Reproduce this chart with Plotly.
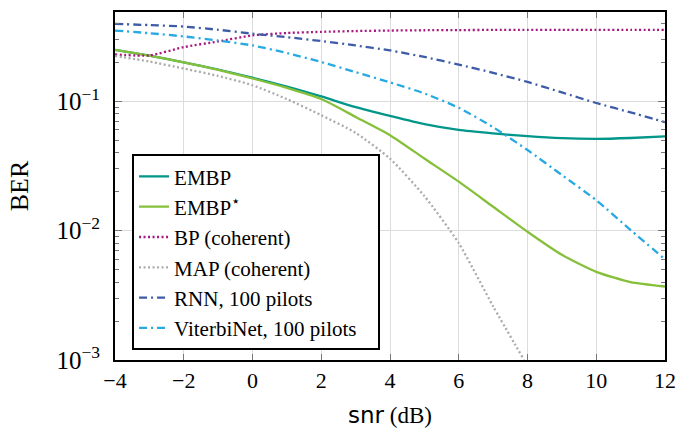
import plotly.graph_objects as go

# ---- data ----
snr = [-4, -3, -2, -1, 0, 1, 2, 3, 4, 5, 6, 7, 8, 9, 10, 11, 12]

embp = [0.25, 0.225, 0.20, 0.176, 0.152, 0.130, 0.109, 0.090, 0.077, 0.0665, 0.060, 0.0565, 0.0537, 0.0518, 0.0512, 0.0520, 0.0535]
embp_star = [0.25, 0.225, 0.20, 0.175, 0.150, 0.127, 0.104, 0.0757, 0.0547, 0.0361, 0.0239, 0.0153, 0.0098, 0.0065, 0.0048, 0.0040, 0.0037]
bp = [0.23, 0.226, 0.262, 0.29, 0.323, 0.337, 0.344, 0.349, 0.352, 0.354, 0.355, 0.356, 0.356, 0.356, 0.356, 0.356, 0.356]
snr_map = [-4, -3, -2, -1, 0, 1, 2, 3, 4, 5, 6, 7, 7.9]
map_ber = [0.224, 0.203, 0.179, 0.157, 0.133, 0.104, 0.078, 0.057, 0.036, 0.0185, 0.0080, 0.0026, 0.001]
rnn = [0.397, 0.388, 0.378, 0.357, 0.333, 0.313, 0.292, 0.270, 0.247, 0.220, 0.192, 0.166, 0.141, 0.117, 0.097, 0.082, 0.069]
viterbinet = [0.352, 0.336, 0.317, 0.295, 0.270, 0.236, 0.201, 0.168, 0.140, 0.115, 0.089, 0.063, 0.042, 0.0269, 0.0172, 0.0101, 0.006]

y_tickvals = [1e-3, 1e-2, 1e-1]
y_ticktext = ["10<sup>−3</sup>", "10<sup>−2</sup>", "10<sup>−1</sup>"]
x_tickvals = [-4, -2, 0, 2, 4, 6, 8, 10, 12]
minor_vals = [m * 10.0 ** k for k in (-3, -2, -1) for m in range(2, 10)]

SERIF = "Liberation Serif, Times New Roman, serif"

series = [
    ("EMBP", snr, embp, "#00968a", "solid"),
    ("EMBP<sup>⋆</sup>", snr, embp_star, "#86c03a", "solid"),
    ("BP (coherent)", snr, bp, "#a8177e", "2px,2.5px"),
    ("MAP (coherent)", snr_map, map_ber, "#ababab", "2px,2.5px"),
    ("RNN, 100 pilots", snr, rnn, "#3d5ca8", "8px,4px,2px,4px"),
    ("ViterbiNet, 100 pilots\u00a0\u00a0\u00a0", snr, viterbinet, "#27a9e1", "8px,4px,2px,4px"),
]

fig = go.Figure()
for i, (name, xs, ys, col, dash) in enumerate(series):
    fig.add_trace(go.Scatter(
        x=xs, y=ys, name=name, mode="lines",
        line=dict(color=col, width=2.3, dash=dash, shape="spline", smoothing=0.6),
    ))

fig.update_layout(
    width=693, height=431,
    margin=dict(l=115, r=28, t=12, b=71),
    paper_bgcolor="white", plot_bgcolor="white",
    font=dict(family=SERIF, size=18, color="black"),
    showlegend=True,
    legend=dict(
        x=0.031, y=0.028, xanchor="left", yanchor="bottom",
        bgcolor="white", bordercolor="black", borderwidth=2,
        font=dict(family=SERIF, size=21, color="black"),
    ),
)
fig.update_xaxes(
    range=[-4, 12], tickmode="array", tickvals=x_tickvals,
    ticks="inside", ticklen=6, tickcolor="#777777",
    showgrid=True, gridcolor="#dcdcdc", gridwidth=1,
    showline=True, linecolor="black", linewidth=2, mirror="ticks",
    zeroline=False, automargin=False,
    tickfont=dict(family=SERIF, size=22),
    title=dict(text="<span style='font-family:DejaVu Sans'>snr</span> (dB)",
               font=dict(family=SERIF, size=23), standoff=14),
)
fig.update_yaxes(
    type="log", range=[-3, -0.31], tickmode="array",
    tickvals=y_tickvals, ticktext=y_ticktext,
    ticks="inside", ticklen=7, tickcolor="#777777",
    minor=dict(tickmode="array", tickvals=minor_vals, ticks="inside",
               ticklen=4, tickcolor="#777777", showgrid=False),
    showgrid=True, gridcolor="#dcdcdc", gridwidth=1,
    showline=True, linecolor="black", linewidth=2, mirror="ticks",
    zeroline=False, automargin=False, ticklabelstandoff=8,
    tickfont=dict(family=SERIF, size=25),
    title=dict(text="BER", font=dict(family=SERIF, size=26), standoff=20),
)

fig.write_html("out.html", config={"displayModeBar": False},
               post_script="document.body.style.margin='0px';")
